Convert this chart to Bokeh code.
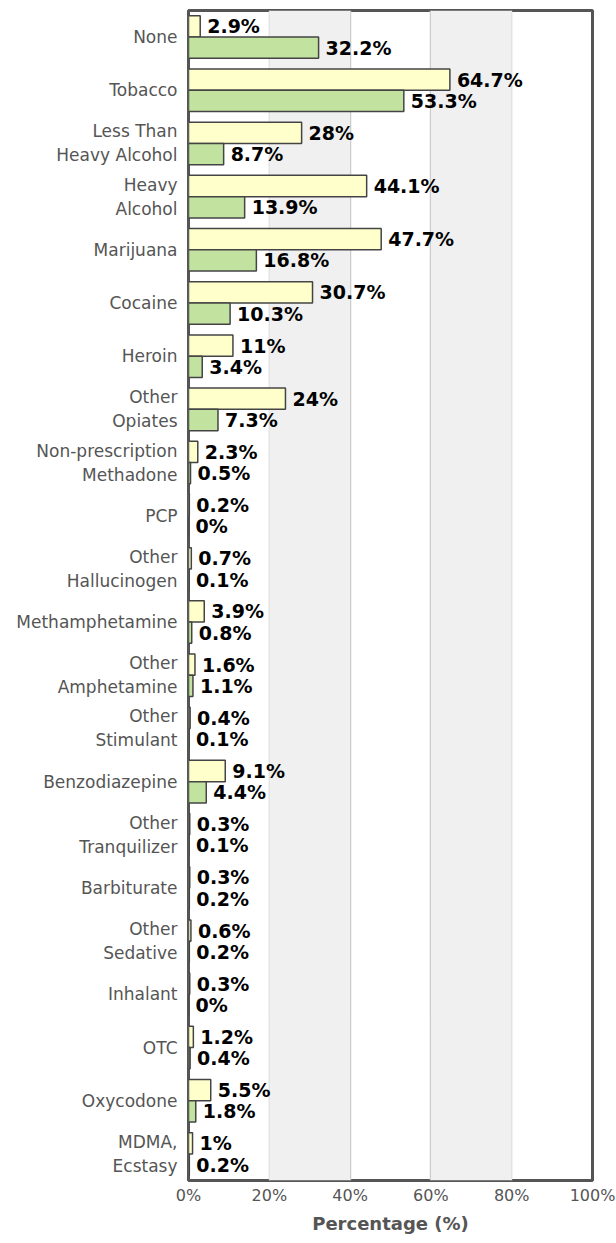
from bokeh.plotting import figure
from bokeh.models import ColumnDataSource, FactorRange, Range1d, BoxAnnotation, FixedTicker, CustomJSTickFormatter
from bokeh.transform import dodge
from bokeh.core.properties import value
from bokeh.embed import file_html
from bokeh.resources import INLINE

categories = ["None", "Tobacco", "Less Than\nHeavy Alcohol", "Heavy\nAlcohol", "Marijuana",
              "Cocaine", "Heroin", "Other\nOpiates", "Non-prescription\nMethadone", "PCP",
              "Other\nHallucinogen", "Methamphetamine", "Other\nAmphetamine", "Other\nStimulant",
              "Benzodiazepine", "Other\nTranquilizer", "Barbiturate", "Other\nSedative",
              "Inhalant", "OTC", "Oxycodone", "MDMA,\nEcstasy"]
series_a = [2.9, 64.7, 28, 44.1, 47.7, 30.7, 11, 24, 2.3, 0.2, 0.7, 3.9, 1.6, 0.4, 9.1, 0.3,
            0.3, 0.6, 0.3, 1.2, 5.5, 1]
series_b = [32.2, 53.3, 8.7, 13.9, 16.8, 10.3, 3.4, 7.3, 0.5, 0, 0.1, 0.8, 1.1, 0.1, 4.4, 0.1,
            0.2, 0.2, 0, 0.4, 1.8, 0.2]
x_ticks = [0, 20, 40, 60, 80, 100]

src = ColumnDataSource(dict(
    cat=categories,
    a=series_a,
    b=series_b,
    la=[f"{v:g}%" for v in series_a],
    lb=[f"{v:g}%" for v in series_b],
))

p = figure(width=616, height=1243, output_backend="svg", toolbar_location=None,
           y_range=FactorRange(factors=list(reversed(categories)), range_padding=0),
           x_range=Range1d(0, 100),
           min_border_left=188, min_border_right=24, min_border_top=10, min_border_bottom=63)

p.background_fill_color = "white"
for l, r in [(20, 40), (60, 80)]:
    p.add_layout(BoxAnnotation(left=l, right=r, fill_color="#f0f0f0", fill_alpha=1, line_color=None, level="underlay"))

p.hbar(y=dodge("cat", 0.2, range=p.y_range), left=0, right="a", height=0.4, source=src,
       fill_color="#ffffcc", line_color="#444444", line_width=1.5)
p.hbar(y=dodge("cat", -0.2, range=p.y_range), left=0, right="b", height=0.4, source=src,
       fill_color="#c2e2a0", line_color="#444444", line_width=1.5)

for col, lab, off in [("a", "la", 0.2), ("b", "lb", -0.2)]:
    p.text(x=col, y=dodge("cat", off, range=p.y_range), text=lab, source=src, x_offset=7,
           text_baseline="middle", text_font=value("DejaVu Sans"), text_font_style="bold",
           text_font_size="19px", text_color="black")

p.outline_line_color = "#555555"
p.outline_line_width = 3

p.xgrid.ticker = FixedTicker(ticks=[20, 40, 60, 80])
p.xgrid.grid_line_color = "#c8c8c8"
p.xgrid.grid_line_width = 1.5
p.ygrid.grid_line_color = None

p.xaxis.ticker = FixedTicker(ticks=x_ticks)
p.xaxis.formatter = CustomJSTickFormatter(code="return tick + '%';")
p.xaxis.axis_line_color = None
p.xaxis.major_tick_line_color = None
p.xaxis.minor_tick_line_color = None
p.xaxis.major_tick_out = 0
p.xaxis.minor_tick_out = 0
p.xaxis.major_label_text_font = "DejaVu Sans"
p.xaxis.major_label_text_font_size = "16px"
p.xaxis.major_label_text_color = "#555555"
p.xaxis.major_label_standoff = 5
p.xaxis.axis_label = "Percentage (%)"
p.xaxis.axis_label_text_font = "DejaVu Sans"
p.xaxis.axis_label_text_font_style = "bold"
p.xaxis.axis_label_text_font_size = "18px"
p.xaxis.axis_label_text_color = "#555555"
p.xaxis.axis_label_standoff = 5

p.yaxis.axis_line_color = None
p.yaxis.major_tick_line_color = None
p.yaxis.minor_tick_line_color = None
p.yaxis.major_tick_out = 0
p.yaxis.minor_tick_out = 0
p.yaxis.major_label_text_font = "DejaVu Sans"
p.yaxis.major_label_text_font_size = "17px"
p.yaxis.major_label_text_color = "#555555"
p.yaxis.major_label_standoff = 11

open("out.html", "w").write(file_html(p, INLINE))
